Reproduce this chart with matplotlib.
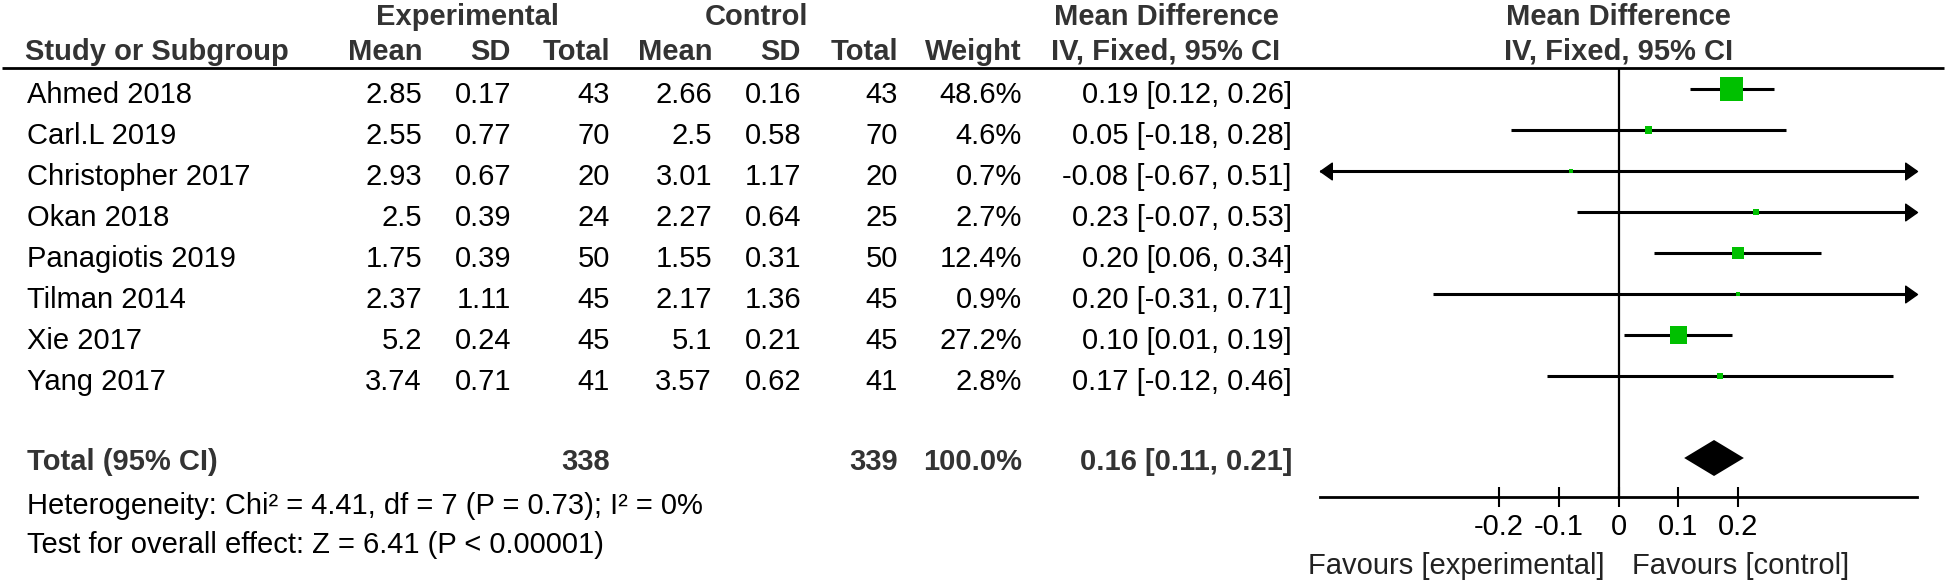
import numpy as np
import matplotlib
matplotlib.use('Agg')
import matplotlib.pyplot as plt
from matplotlib import transforms
from matplotlib.path import Path

plt.rcParams['font.family'] = ['Liberation Sans', 'DejaVu Sans']
plt.rcParams['axes.unicode_minus'] = False

# data
studies = ['Ahmed 2018', 'Carl.L 2019', 'Christopher 2017', 'Okan 2018',
           'Panagiotis 2019', 'Tilman 2014', 'Xie 2017', 'Yang 2017']
exp_mean = [2.85, 2.55, 2.93, 2.5, 1.75, 2.37, 5.2, 3.74]
exp_sd = [0.17, 0.77, 0.67, 0.39, 0.39, 1.11, 0.24, 0.71]
exp_n = [43, 70, 20, 24, 50, 45, 45, 41]
ctrl_mean = [2.66, 2.5, 3.01, 2.27, 1.55, 2.17, 5.1, 3.57]
ctrl_sd = [0.16, 0.58, 1.17, 0.64, 0.31, 1.36, 0.21, 0.62]
ctrl_n = [43, 70, 20, 25, 50, 45, 45, 41]
weight = [48.6, 4.6, 0.7, 2.7, 12.4, 0.9, 27.2, 2.8]
md = [0.19, 0.05, -0.08, 0.23, 0.20, 0.20, 0.10, 0.17]
ci_lo = [0.12, -0.18, -0.67, -0.07, 0.06, -0.31, 0.01, -0.12]
ci_hi = [0.26, 0.28, 0.51, 0.53, 0.34, 0.71, 0.19, 0.46]

total_exp_n = 338
total_ctrl_n = 339
total_weight = 100.0
total_md = 0.16
total_lo = 0.11
total_hi = 0.21
heterogeneity = 'Heterogeneity: Chi² = 4.41, df = 7 (P = 0.73); I² = 0%'
overall = 'Test for overall effect: Z = 6.41 (P < 0.00001)'
xticks = [-0.2, -0.1, 0, 0.1, 0.2]
xlimit = 0.5

# layout (pixels of the 1946x582 image)
W, H = 1946, 582
ROW0, ROWH = 89, 41          # first study row centre, row pitch


def r(px):
    return (px - ROW0) / ROWH


fig = plt.figure(figsize=(W / 100, H / 100), dpi=100)
tab = fig.add_axes([0, 0, 1, 1])
tab.set_xlim(0, W)
tab.set_ylim(r(H), r(0))
tab.axis('off')

fx0, fx1, fy_top, fy_bot = 1320, 1917, 68, 497
ax = fig.add_axes([fx0 / W, 1 - fy_bot / H, (fx1 - fx0) / W, (fy_bot - fy_top) / H])
ax.set_xlim(-xlimit, xlimit)
ax.set_ylim(r(fy_bot), r(fy_top))
ax.patch.set_alpha(0)

FS = 21
HEAD = '#333333'
GREEN = '#00c000'
BASE = 0.34

# headers
tab.text(467, r(25), 'Experimental', ha='center', fontsize=FS, weight='bold', color=HEAD)
tab.text(756, r(25), 'Control', ha='center', fontsize=FS, weight='bold', color=HEAD)
tab.text(1166, r(25), 'Mean Difference', ha='center', fontsize=FS, weight='bold', color=HEAD)
tab.text(1166, r(60), 'IV, Fixed, 95% CI', ha='center', fontsize=FS, weight='bold', color=HEAD)
tab.text(25, r(60), 'Study or Subgroup', ha='left', fontsize=FS, weight='bold', color=HEAD)
cols = [(422, 'Mean'), (511, 'SD'), (610, 'Total'), (712, 'Mean'),
        (801, 'SD'), (898, 'Total'), (1022, 'Weight')]
for x, s in cols:
    tab.text(x, r(60), s, ha='right', fontsize=FS, weight='bold', color=HEAD)

blend = transforms.blended_transform_factory(ax.transData, tab.transData)
ax.text(0, r(25), 'Mean Difference', ha='center', fontsize=FS, weight='bold',
        color=HEAD, transform=blend, clip_on=False)
ax.text(0, r(60), 'IV, Fixed, 95% CI', ha='center', fontsize=FS, weight='bold',
        color=HEAD, transform=blend, clip_on=False)

tab.hlines(r(68), 2, 1944, color='black', lw=2.0)

# study rows
rows = np.arange(len(studies))
for i in rows:
    y = i + BASE
    tab.text(27, y, studies[i], ha='left', fontsize=FS)
    vals = [f'{exp_mean[i]:g}', f'{exp_sd[i]:g}', str(exp_n[i]),
            f'{ctrl_mean[i]:g}', f'{ctrl_sd[i]:g}', str(ctrl_n[i]),
            f'{weight[i]:.1f}%', f'{md[i]:.2f} [{ci_lo[i]:.2f}, {ci_hi[i]:.2f}]']
    xs = [422, 511, 610, 712, 801, 898, 1022, 1292]
    for x, s in zip(xs, vals):
        tab.text(x, y, s, ha='right', fontsize=FS)

# total row
total_row = 9
y = total_row + 0.3
tab.text(27, y, 'Total (95% CI)', ha='left', fontsize=FS, weight='bold', color=HEAD)
tab.text(610, y, str(total_exp_n), ha='right', fontsize=FS, weight='bold', color=HEAD)
tab.text(898, y, str(total_ctrl_n), ha='right', fontsize=FS, weight='bold', color=HEAD)
tab.text(1022, y, f'{total_weight:.1f}%', ha='right', fontsize=FS, weight='bold', color=HEAD)
tab.text(1292, y, f'{total_md:.2f} [{total_lo:.2f}, {total_hi:.2f}]', ha='right',
         fontsize=FS, weight='bold', color=HEAD)
tab.text(27, r(514), heterogeneity, ha='left', fontsize=FS)
tab.text(27, r(553), overall, ha='left', fontsize=FS)

# forest
ax.axvline(0, color='black', lw=1.6, zorder=1)
lo_c = np.clip(ci_lo, -xlimit, xlimit)
hi_c = np.clip(ci_hi, -xlimit, xlimit)
ax.hlines(rows, lo_c, hi_c, color='black', lw=2.2, zorder=2)

head_r = Path([(0, 0), (-1.2, 0.85), (-1.2, -0.85), (0, 0)],
              [Path.MOVETO, Path.LINETO, Path.LINETO, Path.CLOSEPOLY])
head_l = Path([(0, 0), (1.2, 0.85), (1.2, -0.85), (0, 0)],
              [Path.MOVETO, Path.LINETO, Path.LINETO, Path.CLOSEPOLY])
for i in rows:
    if ci_hi[i] > xlimit:
        ax.plot(xlimit, i, marker=head_r, ms=17, color='black', clip_on=False, zorder=3)
    if ci_lo[i] < -xlimit:
        ax.plot(-xlimit, i, marker=head_l, ms=17, color='black', clip_on=False, zorder=3)

side_px = np.maximum(4, 3.3 * np.sqrt(weight))
side_pt = side_px * 72 / 100
ax.scatter(md, rows, marker='s', s=side_pt ** 2, color=GREEN, edgecolors='none',
           zorder=4, clip_on=False)

dh = 18 / ROWH
ax.fill([total_lo, total_md, total_hi, total_md],
        [total_row, total_row - dh, total_row, total_row + dh],
        color='black', lw=0, zorder=4, clip_on=False)

for s in ['top', 'left', 'right']:
    ax.spines[s].set_visible(False)
ax.spines['bottom'].set_linewidth(2.0)
ax.set_yticks([])
ax.set_xticks(xticks)
ax.set_xticklabels([f'{t:g}' for t in xticks])
ax.tick_params(axis='x', direction='inout', length=15, width=1.5, pad=4, labelsize=FS)

ax.annotate('Favours [experimental]', xy=(0, r(574)), xycoords=blend,
            xytext=(-14, 0), textcoords='offset pixels', ha='right', va='baseline',
            fontsize=FS, color='#222222', annotation_clip=False)
ax.annotate('Favours [control]', xy=(0, r(574)), xycoords=blend,
            xytext=(14, 0), textcoords='offset pixels', ha='left', va='baseline',
            fontsize=FS, color='#222222', annotation_clip=False)

fig.savefig('out.png', dpi=100)
